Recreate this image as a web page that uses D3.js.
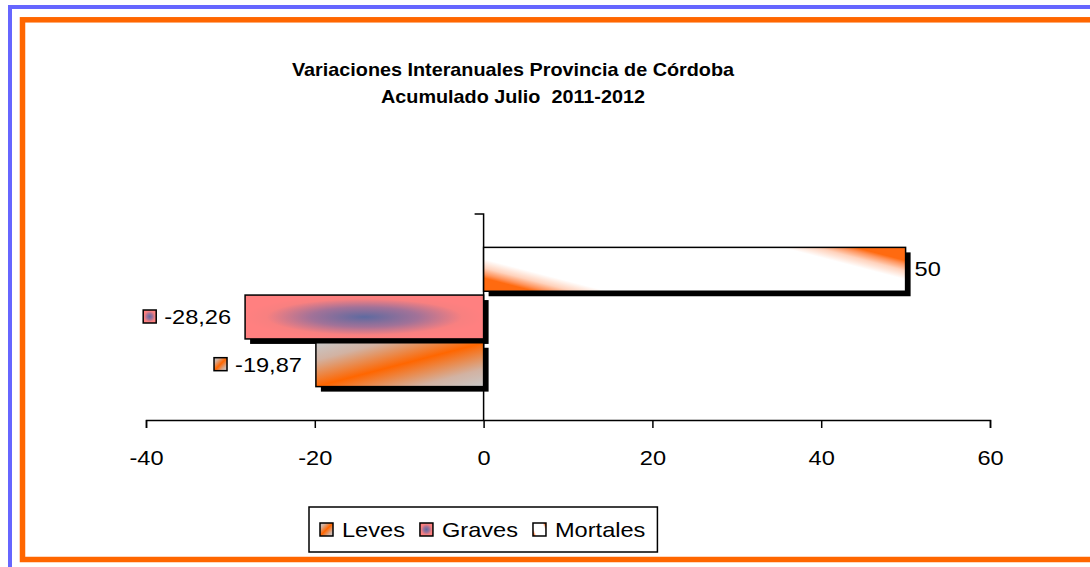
<!DOCTYPE html>
<html>
<head>
<meta charset="utf-8">
<script src="https://cdn.jsdelivr.net/npm/d3@7"></script>
<style>
  body { margin: 0; background: #fff; }
  text { font-family: "Liberation Sans", Arial, sans-serif; fill: #000; white-space: pre; }
</style>
</head>
<body>
<svg id="chart" width="1090" height="567"></svg>
<script>
// data ----------------------------------------------------------------------
var titleLines = ["Variaciones Interanuales Provincia de Córdoba", "Acumulado Julio  2011-2012"];
var series = ["Leves", "Graves", "Mortales"];
var values = [-19.87, -28.26, 50];
var xTicks = [-40, -20, 0, 20, 40, 60];
var gradIds = ["gLeves", "gGraves", "gMortales"];

var rows = series.map((s, i) => ({ name: s, value: values[i], grad: gradIds[i] }));

// spanish number format, plain hyphen minus
var fmt = d3.formatLocale({ decimal: ",", thousands: ".", grouping: [3], currency: ["", ""], minus: "-" }).format(".2~f");

// the original text is drawn a bit wide: horizontal stretch
var fs = 20, sx = 1.18;
var tfs = 18, tsx = 1.1;

var svg = d3.select("#chart");

// ---------------------------------------------------------------------------
// gradients
var defs = svg.append("defs");

var gL = defs.append("linearGradient").attr("id", "gLeves")
    .attr("x1", 0).attr("y1", 0).attr("x2", 1).attr("y2", 1);
gL.append("stop").attr("offset", 0).attr("stop-color", "#c8c8c8");
gL.append("stop").attr("offset", 0.2).attr("stop-color", "#d2b2a2");
gL.append("stop").attr("offset", 0.5).attr("stop-color", "#ff6600");
gL.append("stop").attr("offset", 0.8).attr("stop-color", "#d2b2a2");
gL.append("stop").attr("offset", 1).attr("stop-color", "#c8c8c8");

var gG = defs.append("radialGradient").attr("id", "gGraves")
    .attr("cx", 0.5).attr("cy", 0.5).attr("r", 0.5);
gG.append("stop").attr("offset", 0).attr("stop-color", "#5e6aa0");
gG.append("stop").attr("offset", 0.45).attr("stop-color", "#a27298");
gG.append("stop").attr("offset", 0.82).attr("stop-color", "#f88080");
gG.append("stop").attr("offset", 1).attr("stop-color", "#ff8080");

var gM = defs.append("linearGradient").attr("id", "gMortales")
    .attr("x1", 0).attr("y1", 0.7).attr("x2", 1).attr("y2", 0.3);
gM.append("stop").attr("offset", 0).attr("stop-color", "#ff6a10");
gM.append("stop").attr("offset", 0.03).attr("stop-color", "#ff945c");
gM.append("stop").attr("offset", 0.08).attr("stop-color", "#ffd2bc");
gM.append("stop").attr("offset", 0.15).attr("stop-color", "#ffffff");
gM.append("stop").attr("offset", 0.85).attr("stop-color", "#ffffff");
gM.append("stop").attr("offset", 0.92).attr("stop-color", "#ffd2bc");
gM.append("stop").attr("offset", 0.97).attr("stop-color", "#ff945c");
gM.append("stop").attr("offset", 1).attr("stop-color", "#ff6a10");

// ---------------------------------------------------------------------------
// frames
svg.append("rect").attr("x", 10).attr("y", 7).attr("width", 1200).attr("height", 700)
    .attr("fill", "none").attr("stroke", "#6666ff").attr("stroke-width", 4);
svg.append("rect").attr("x", 22.5).attr("y", 19.8).attr("width", 1200).attr("height", 539.7)
    .attr("fill", "#fff").attr("stroke", "#ff6600").attr("stroke-width", 5.5);

// title
svg.selectAll("text.title").data(titleLines).enter().append("text")
    .attr("class", "title")
    .attr("transform", (d, i) => `translate(513,${76 + i * 27}) scale(${tsx},1)`)
    .attr("text-anchor", "middle")
    .style("font-size", tfs + "px").style("font-weight", "bold")
    .text(d => d);

// ---------------------------------------------------------------------------
// scales
var x = d3.scaleLinear().domain([-40, 60]).range([146, 990]);
var y = d3.scaleBand()
    .domain(series.slice().reverse())
    .range([214, 420])
    .paddingInner(0.08)
    .paddingOuter(0.7);
var shadow = 5;

// x axis
var xAxis = svg.append("g")
    .attr("transform", "translate(0,420)")
    .call(d3.axisBottom(x).tickValues(xTicks).tickSize(8).tickSizeOuter(8).tickPadding(23)
        .tickFormat(d => String(d)));
xAxis.select(".domain").attr("stroke", "#000").attr("stroke-width", 1.5);
xAxis.selectAll(".tick line").attr("stroke", "#000").attr("stroke-width", 1.5);
xAxis.selectAll(".tick text")
    .attr("transform", `scale(${sx},1)`)
    .style("font-size", fs + "px").attr("fill", "#000")
    .style("font-family", "'Liberation Sans', Arial, sans-serif");

// y axis (single category)
var yr = y.range();
svg.append("path")
    .attr("d", `M${x(0) - 9},${yr[0]}H${x(0)}V${yr[1]}`)
    .attr("fill", "none").attr("stroke", "#000").attr("stroke-width", 1.5);

// bars
var bars = svg.append("g");
bars.selectAll("rect.shadow").data(rows).enter().append("rect")
    .attr("class", "shadow")
    .attr("x", d => Math.min(x(d.value), x(0)) + shadow)
    .attr("y", d => y(d.name) + shadow)
    .attr("width", d => Math.abs(x(d.value) - x(0)))
    .attr("height", y.bandwidth())
    .attr("fill", "#000");
bars.selectAll("rect.bar").data(rows).enter().append("rect")
    .attr("class", "bar")
    .attr("x", d => Math.min(x(d.value), x(0)))
    .attr("y", d => y(d.name))
    .attr("width", d => Math.abs(x(d.value) - x(0)))
    .attr("height", y.bandwidth())
    .attr("fill", d => `url(#${d.grad})`)
    .attr("stroke", "#000").attr("stroke-width", 1.5);

// data labels
var lab = svg.append("g").selectAll("g").data(rows).enter().append("g");
lab.each(function (d) {
    var g = d3.select(this);
    var cy = y(d.name) + y.bandwidth() / 2;
    var t = g.append("text")
        .style("font-size", fs + "px")
        .text(fmt(d.value));
    if (d.value >= 0) {
        t.attr("transform", `translate(${x(d.value) + 9},${cy + 7}) scale(${sx},1)`)
            .attr("text-anchor", "start");
    } else {
        var xe = x(d.value) - 14;
        t.attr("transform", `translate(${xe},${cy + 7}) scale(${sx},1)`)
            .attr("text-anchor", "end");
        var w = t.node().getComputedTextLength() * sx;
        g.append("rect")
            .attr("x", xe - w - 8 - 13).attr("y", cy - 7)
            .attr("width", 13).attr("height", 13)
            .attr("fill", `url(#${d.grad})`)
            .attr("stroke", "#000").attr("stroke-width", 1.5);
    }
});

// legend
var leg = svg.append("g");
var legBox = leg.append("rect")
    .attr("y", 507).attr("height", 45)
    .attr("fill", "#fff").attr("stroke", "#000").attr("stroke-width", 1.5);
var legLeft = 320, legGap = 15;
var lx = legLeft;
var items = leg.selectAll("g.item").data(rows).enter().append("g").attr("class", "item");
items.each(function (d) {
    var g = d3.select(this);
    g.append("rect")
        .attr("x", lx).attr("y", 523).attr("width", 13).attr("height", 13)
        .attr("fill", `url(#${d.grad})`)
        .attr("stroke", "#000").attr("stroke-width", 1.5);
    var t = g.append("text")
        .attr("transform", `translate(${lx + 22},537) scale(${sx},1)`)
        .style("font-size", fs + "px")
        .text(d.name);
    lx += 22 + t.node().getComputedTextLength() * sx + legGap;
});
lx -= legGap;
legBox.attr("x", legLeft - 11).attr("width", lx - legLeft + 11 + 12);
</script>
</body>
</html>
